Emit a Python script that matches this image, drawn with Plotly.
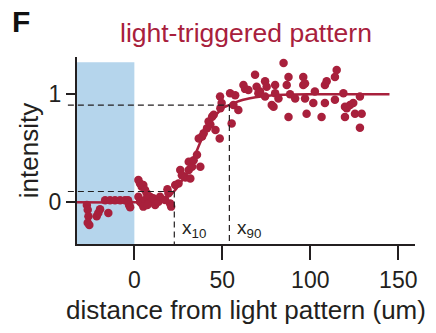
import plotly.graph_objects as go

# ---- data ----
baseline_x = [-27, -26.5, -26.1, -26.5, -25.6, -21.4, -19.5, -20.5, -14.8, -16.6,
              -13.8, -11, -8.1, -5.3, -3.6, -3.4, -3, -2.4]
baseline_y = [-0.025, -0.07, -0.13, -0.19, -0.21, -0.13, -0.065, -0.10, -0.10, 0.02,
              0.02, 0.02, 0.02, 0.02, 0.02, 0.0, -0.025, -0.045]

edge_x = [2.3, 3.2, 4.2, 5.1, 6.1, 7.0, 2.3, 3.2, 4.2, 6.1, 8.0, 8.9, 9.9, 10.8,
          11.8, 13.7, 5.1, 7.4, 14.6, 17.5, 18.8, 19.4, 20.3, 20.9]
edge_y = [0.206, 0.175, 0.145, 0.16, 0.114, 0.083, 0.052, 0.006, -0.01, 0.021,
          0.037, 0.052, 0.006, 0.037, -0.025, 0.006, -0.04, -0.025, 0.052, 0.021,
          0.12, 0.083, -0.01, -0.04]

rise_x = [23.2, 25.1, 26.1, 27, 29, 30.9, 30.9, 32.8, 31.8, 33.7, 35.6, 37.5,
          36.6, 38.5, 39.4, 41.3, 42.2, 43.2, 44.2, 45.1, 46.1, 48.5, 48.9]
rise_y = [0.16, 0.175, 0.30, 0.25, 0.23, 0.376, 0.30, 0.33, 0.22, 0.39, 0.44, 0.33,
          0.59, 0.61, 0.64, 0.685, 0.747, 0.72, 0.793, 0.81, 0.67, 0.59, 0.87]

plateau_x = [48.7, 49.6, 54.4, 57.3, 56.3, 55.3, 59.1, 62, 62.9, 64.8, 68.6, 69.5,
             70.5, 71.4, 74.3, 74.3, 75.2, 78.1, 79.1, 80, 80, 81.9, 84.8, 86.6,
             87.6, 87.6, 88.5, 91.4, 96, 96, 97, 97, 97.9, 102.6, 101.7, 106.4,
             108.3, 109.3, 108.3, 114, 114, 115, 118.8, 119.7, 119.7, 120.7, 122.6,
             124.4, 125.4, 128.2, 129.2, 128.2]
plateau_y = [0.98, 0.92, 1.01, 0.99, 0.90, 0.73, 0.855, 1.085, 1.05, 1.04, 1.18, 1.07,
             1.01, 1.025, 1.12, 0.98, 1.07, 0.90, 0.885, 1.085, 1.01, 0.96, 1.29, 1.085,
             1.16, 0.79, 1.0, 0.96, 1.16, 1.085, 1.10, 0.96, 0.82, 1.025, 0.92, 0.79,
             1.085, 1.12, 0.92, 0.95, 1.16, 1.225, 1.01, 0.885, 0.79, 0.87, 0.90,
             0.92, 0.82, 0.98, 0.82, 0.69]

fit_x = [-32.6, 0, 10, 15, 20, 23, 27, 30, 34, 39, 45, 51, 54, 60, 65, 72, 85, 100, 145]
fit_y = [0, 0, 0.005, 0.02, 0.06, 0.11, 0.2, 0.28, 0.42, 0.61, 0.78, 0.88, 0.9, 0.94,
         0.96, 0.98, 0.995, 1, 1]

x10, x90 = 22.7, 54.0
x_ticks = [0, 50, 100, 150]
y_ticks = [0, 1]

RED = "#A8203C"
DARK = "#231F20"
FONT = "Liberation Sans, Arial"

pts_x = baseline_x + edge_x + rise_x + plateau_x
pts_y = baseline_y + edge_y + rise_y + plateau_y

fig = go.Figure()
fig.add_trace(go.Scatter(x=fit_x, y=fit_y, mode="lines",
                         line=dict(color=RED, width=2.5, shape="spline"),
                         hoverinfo="skip", showlegend=False))
fig.add_trace(go.Scatter(x=pts_x, y=pts_y, mode="markers",
                         marker=dict(color=RED, size=8.5, line=dict(width=0)),
                         showlegend=False))

XMIN, XMAX = -32.6, 159.5
YMIN, YMAX = -0.386, 1.345

# the page body has an 8px margin: work in page pixels and shift
OFF = 8
L, T = 77 - OFF, 57 - OFF
PW, PH = 338, 187
W, H = 436 - OFF, 333 - OFF
R, B = W - L - PW, H - T - PH

def px2paper(px, py):
    return (px - OFF - L) / PW, 1 - (py - OFF - T) / PH

DASH = "6px,4px"
shapes = [
    dict(type="rect", xref="x", yref="y", x0=XMIN, x1=0, y0=YMIN, y1=1.296,
         fillcolor="#B5D5EC", line=dict(width=0), layer="below"),
    dict(type="line", xref="paper", yref="y", x0=-0.027, x1=(x90 - XMIN) / (XMAX - XMIN),
         y0=0.9, y1=0.9, line=dict(color=DARK, width=1.2, dash=DASH)),
    dict(type="line", xref="paper", yref="y", x0=-0.027, x1=(x10 - XMIN) / (XMAX - XMIN),
         y0=0.1, y1=0.1, line=dict(color=DARK, width=1.2, dash=DASH)),
    dict(type="line", xref="x", yref="y", x0=x10, x1=x10, y0=0.1, y1=YMIN,
         line=dict(color=DARK, width=1.2, dash=DASH)),
    dict(type="line", xref="x", yref="y", x0=x90, x1=x90, y0=0.9, y1=YMIN,
         line=dict(color=DARK, width=1.2, dash=DASH)),
]

tx, ty = px2paper(246, 33)
fx, fy = px2paper(21, 22)
annotations = [
    dict(text="x<sub>10</sub>", x=x10 + 3.0, y=-0.25, xref="x", yref="y",
         xanchor="left", yanchor="middle", showarrow=False,
         font=dict(size=19, color=DARK, family=FONT)),
    dict(text="x<sub>90</sub>", x=x90 + 3.0, y=-0.25, xref="x", yref="y",
         xanchor="left", yanchor="middle", showarrow=False,
         font=dict(size=19, color=DARK, family=FONT)),
    dict(text="light-triggered pattern", x=tx, y=ty, xref="paper", yref="paper",
         xanchor="center", yanchor="middle", showarrow=False,
         font=dict(size=26.5, color=RED, family=FONT)),
    dict(text="<b>F</b>", x=fx, y=fy, xref="paper", yref="paper",
         xanchor="center", yanchor="middle", showarrow=False,
         font=dict(size=30, color="#111111", family=FONT)),
]

fig.update_layout(
    width=W, height=H,
    margin=dict(l=L, r=R, t=T, b=B),
    paper_bgcolor="white", plot_bgcolor="white",
    font=dict(family=FONT, color=DARK, size=23),
    shapes=shapes, annotations=annotations,
    xaxis=dict(range=[XMIN, XMAX], tickvals=x_ticks, ticks="outside", ticklen=14,
               tickwidth=2, tickcolor=DARK, showline=True, linecolor=DARK, linewidth=2,
               showgrid=False, zeroline=False, tickfont=dict(size=23),
               title=dict(text="distance from light pattern (um)", font=dict(size=26),
                          standoff=9)),
    yaxis=dict(range=[YMIN, YMAX], tickvals=y_ticks, ticks="outside", ticklen=9,
               tickwidth=2, tickcolor=DARK, showline=True, linecolor=DARK, linewidth=2,
               showgrid=False, zeroline=False, tickfont=dict(size=23),
               title=dict(text="intensity", font=dict(size=26), standoff=3)),
)

fig.write_html("out.html")
